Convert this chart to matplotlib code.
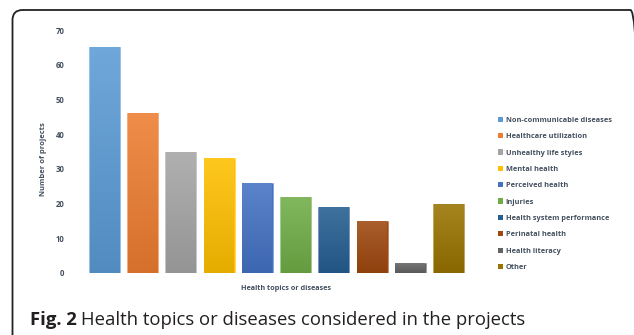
import matplotlib
matplotlib.use('Agg')
import matplotlib.pyplot as plt
import numpy as np
from matplotlib.colors import LinearSegmentedColormap, to_rgb
from matplotlib.patches import FancyBboxPatch
from matplotlib.transforms import IdentityTransform

TOPICS = ['Non-communicable diseases', 'Healthcare utilization', 'Unhealthy life styles',
          'Mental health', 'Perceived health', 'Injuries', 'Health system performance',
          'Perinatal health', 'Health literacy', 'Other']
N_PROJECTS = [65, 46, 35, 33, 26, 22, 19, 15, 3, 20]
Y_TICKS = [0, 10, 20, 30, 40, 50, 60, 70]

COLORS = ['#5B9BD5', '#ED7D31', '#A5A5A5', '#FFC000', '#4472C4',
          '#70AD47', '#255E91', '#9E480E', '#636363', '#997300']
TXT = '#44505f'
FONT = 'Open Sans'

def shade(c, f):
    # f > 0 mixes towards white, f < 0 towards black
    c = np.array(to_rgb(c))
    if f > 0:
        return tuple(c + (1 - c) * f)
    return tuple(c * (1 + f))

W, H = 634, 335
fig = plt.figure(figsize=(W / 100, H / 100), dpi=100)
fig.patch.set_facecolor('white')

# plot area in pixels
x0, x1 = 85.4, 467.6
yb, yt = 273, 30
ax = fig.add_axes([x0 / W, (H - yb) / H, (x1 - x0) / W, (yb - yt) / H])

xs = np.arange(len(TOPICS))
bars = ax.bar(xs, N_PROJECTS, width=0.81, color=COLORS, zorder=2,
              edgecolor=[shade(c, 0.35) for c in COLORS], linewidth=0.6)

# vertical gradient on each bar, lighter at the top
grad = np.linspace(0, 1, 64).reshape(-1, 1)
for rect, c in zip(bars, COLORS):
    cm = LinearSegmentedColormap.from_list('g', [shade(c, -0.1), shade(c, 0.12)])
    bx, bw, bh = rect.get_x(), rect.get_width(), rect.get_height()
    pad = 0.015
    ax.imshow(grad, extent=[bx + pad, bx + bw - pad, 0, bh - 0.15], origin='lower',
              aspect='auto', cmap=cm, zorder=3, interpolation='bilinear')

ax.set_xlim(-0.5, len(TOPICS) - 0.5)
ax.set_ylim(0, 70)
ax.set_yticks(Y_TICKS)
ax.set_xticks([])
for s in ax.spines.values():
    s.set_visible(False)
ax.tick_params(axis='y', length=0, pad=15, labelsize=5.6, labelcolor=TXT)
for lab in ax.get_yticklabels():
    lab.set_fontweight('bold')
    lab.set_fontfamily(FONT)

ax.set_ylabel('Number of projects', fontsize=5.4, fontweight='bold', color=TXT,
              family=FONT)
ax.yaxis.set_label_coords(-0.1, 0.47)
fig.text(286 / W, (H - 289) / H, 'Health topics or diseases', ha='center', va='center',
         fontsize=5.2, fontweight='bold', color=TXT, family=FONT)

leg = fig.legend(handles=list(bars), labels=TOPICS, loc='upper left',
                 bbox_to_anchor=(494 / W, (H - 113) / H), frameon=False,
                 prop={'family': FONT, 'weight': 'bold', 'size': 5.3},
                 handlelength=0.7, handleheight=0.7, handletextpad=0.4,
                 labelspacing=1.25, borderpad=0)
for t in leg.get_texts():
    t.set_color(TXT)
for h in leg.legend_handles:
    h.set_edgecolor('none')

# rounded frame around the figure panel, right side runs off the canvas
frame = FancyBboxPatch((12.5, -20), 628, H - 10 + 20,
                       boxstyle='round,pad=0,rounding_size=10',
                       transform=IdentityTransform(), fill=False,
                       edgecolor='#222222', linewidth=1.3)
fig.patches.append(frame)

# caption, bold figure number followed by regular text
r = fig.canvas.get_renderer()
cy = (H - 325) / H
t1 = fig.text(30 / W, cy, 'Fig. 2', fontsize=13.3, fontweight='bold', color='#231f20',
              family=FONT, va='baseline')
bb = t1.get_window_extent(renderer=r)
fig.text((bb.x1 + 4) / W, cy, 'Health topics or diseases considered in the projects',
         fontsize=13.3, color='#231f20', family=FONT, va='baseline')

fig.savefig('out.png', dpi=100)
